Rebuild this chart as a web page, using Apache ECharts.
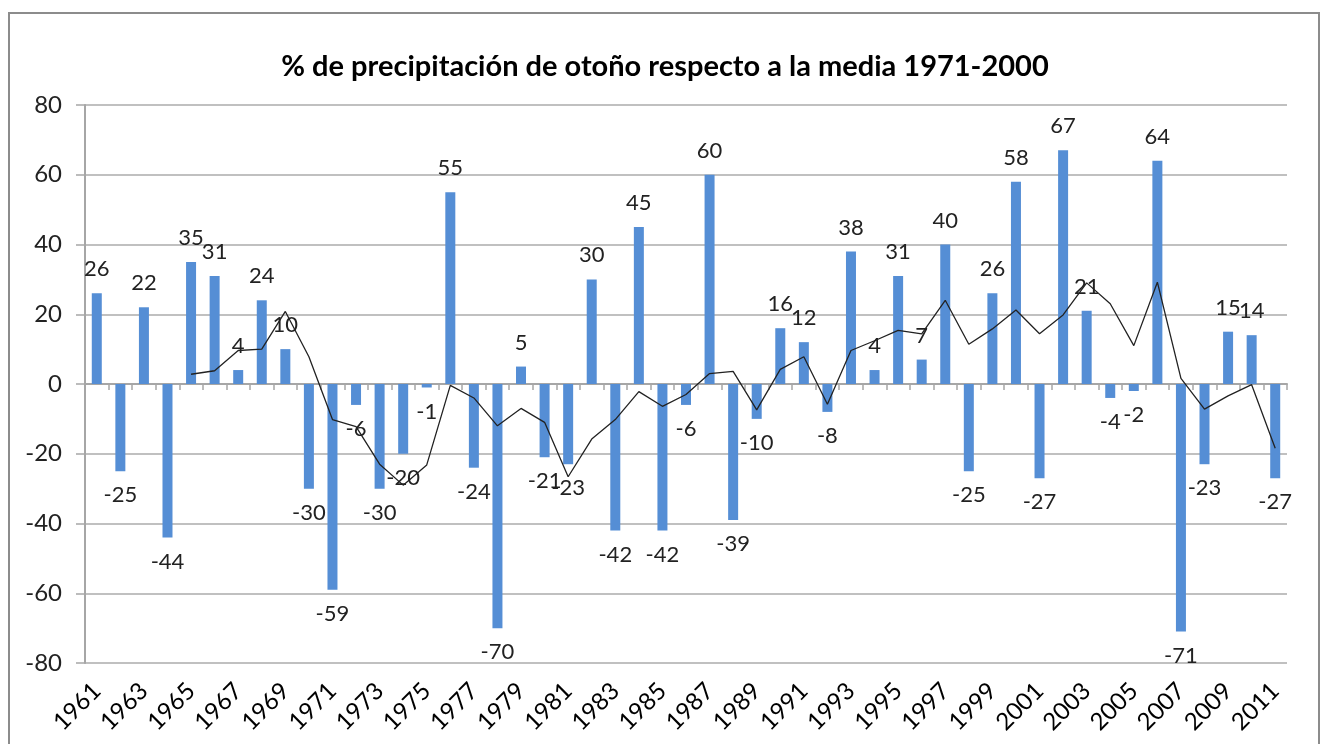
<!DOCTYPE html>
<html>
<head>
<meta charset="utf-8">
<script src="https://cdn.jsdelivr.net/npm/echarts@6/dist/echarts.min.js"></script>
<style>
    html, body {margin: 0; padding: 0; background: #fff;}
    #frame {position: absolute; left: 8px; top: 12px; width: 1312px; height: 760px; border: 2px solid #8c8c8c; box-sizing: border-box;}
    #chart {position: absolute; left: 0; top: 0; width: 1330px; height: 744px;}
</style>
</head>
<body>
<div id="frame"></div>
<div id="chart"></div>
<script>
const years = ['1961', '1962', '1963', '1964', '1965', '1966', '1967', '1968', '1969', '1970',
    '1971', '1972', '1973', '1974', '1975', '1976', '1977', '1978', '1979', '1980',
    '1981', '1982', '1983', '1984', '1985', '1986', '1987', '1988', '1989', '1990',
    '1991', '1992', '1993', '1994', '1995', '1996', '1997', '1998', '1999', '2000',
    '2001', '2002', '2003', '2004', '2005', '2006', '2007', '2008', '2009', '2010', '2011'];

// % anomaly per autumn
const anomaly = [26, -25, 22, -44, 35, 31, 4, 24, 10, -30,
    -59, -6, -30, -20, -1, 55, -24, -70, 5, -21,
    -23, 30, -42, 45, -42, -6, 60, -39, -10, 16,
    12, -8, 38, 4, 31, 7, 40, -25, 26, 58,
    -27, 67, 21, -4, -2, 64, -71, -23, 15, 14, -27];

// black trend line (starts at 1965)
const trend = ['-', '-', '-', '-', 2.8, 3.8, 9.6, 10, 20.8, 7.8,
    -10.2, -12.2, -23, -29, -23.2, -0.4, -4, -12, -7, -11,
    -26.6, -15.8, -10.2, -2.2, -6.4, -3, 3, 3.6, -7.4, 4.2,
    7.8, -5.8, 9.6, 12.4, 15.4, 14.4, 24, 11.4, 15.8, 21.2,
    14.4, 19.8, 29, 23, 11, 29.2, 1.6, -7.2, -3.4, -0.2, -18.4];

const yTicks = [-80, -60, -40, -20, 0, 20, 40, 60, 80];

const font = 'Lato, "Open Sans", sans-serif';
const chart = echarts.init(document.getElementById('chart'));

const option = {
    animation: false,
    title: {
        text: '% de precipitación de otoño respecto a la media 1971-2000',
        left: 'center',
        top: 47,
        textStyle: {fontFamily: font, fontSize: 29, fontWeight: 'bold', color: '#000'}
    },
    grid: {left: 85, right: 43, top: 105, bottom: 81},
    xAxis: [{
        type: 'category',
        data: years,
        position: 'bottom',
        axisLine: {show: false, onZero: false},
        axisTick: {show: false},
        axisLabel: {
            interval: 1, rotate: 45, margin: 24,
            fontFamily: font, fontSize: 24, color: '#000'
        }
    }, {
        type: 'category',
        data: years,
        position: 'bottom',
        axisLine: {onZero: true, lineStyle: {color: '#a6a6a6', width: 2}},
        axisTick: {show: true, length: 6, interval: 0, lineStyle: {color: '#a6a6a6', width: 1.5}},
        axisLabel: {show: false}
    }],
    yAxis: {
        type: 'value',
        min: yTicks[0],
        max: yTicks[yTicks.length - 1],
        interval: 20,
        axisLine: {show: true, lineStyle: {color: '#a6a6a6', width: 2}},
        axisTick: {show: true, length: 9, lineStyle: {color: '#a6a6a6', width: 1.5}},
        splitLine: {lineStyle: {color: '#c0c0c0', width: 2}},
        axisLabel: {margin: 23, fontFamily: font, fontSize: 24, color: '#222'}
    },
    series: [{
        type: 'bar',
        xAxisIndex: 1,
        data: anomaly,
        barWidth: 10,
        itemStyle: {color: '#558ed5'},
        label: {
            show: true,
            position: 'outside',
            distance: 13,
            fontFamily: font,
            fontSize: 22,
            color: '#222'
        }
    }, {
        type: 'line',
        xAxisIndex: 1,
        data: trend,
        showSymbol: false,
        symbol: 'none',
        lineStyle: {color: '#222', width: 1.3},
        z: 3
    }]
};
chart.setOption(option);
</script>
</body>
</html>
